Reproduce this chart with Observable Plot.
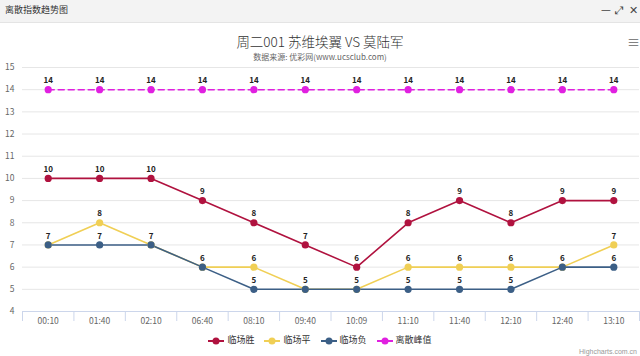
<!DOCTYPE html>
<html>
<head>
<meta charset="utf-8">
<script src="https://cdn.jsdelivr.net/npm/d3@7"></script>
<script src="https://cdn.jsdelivr.net/npm/@observablehq/plot@0.6"></script>
<style>
  html, body { margin: 0; padding: 0; background: #fff; }
  body { width: 640px; height: 356px; position: relative; overflow: hidden;
         font-family: "Noto Sans CJK SC", "Noto Sans", sans-serif; }
  #bar { position: absolute; left: 0; top: 0; width: 640px; height: 22px; background: #f3f3f3;
         border-bottom: 1px solid #e4e4e4; font-size: 9px; color: #333; }
  #bar .t { position: absolute; left: 5px; top: 5px; line-height: 1; }
  #bar .c { position: absolute; top: 4px; font-size: 11px; color: #444; line-height: 1; }
  #title { position: absolute; left: 0; width: 640px; top: 34px; text-align: center;
           font-size: 13.5px; line-height: 14px; color: #333; font-weight: 300; }
  #sub { position: absolute; left: 0; width: 640px; top: 52px; text-align: center;
         font-size: 8px; line-height: 9px; color: #666; }
  #menu { position: absolute; left: 627px; top: 35px; font-size: 13px; line-height: 13px; color: #666; }
  #chart { position: absolute; left: 0; top: 60px; }
  #legend { position: absolute; left: 0; width: 640px; top: 335px; text-align: center;
            font-size: 9px; line-height: 10px; color: #333; }
  #legend span.item { display: inline-block; margin: 0 5px; }
  #legend svg { vertical-align: middle; margin-right: 3px; }
  #credit { position: absolute; right: 3px; top: 348px; font-size: 7px; line-height: 7px; color: #999;
            font-family: "Liberation Sans", sans-serif; }
</style>
</head>
<body>
<div id="bar"><span class="t">离散指数趋势图</span>
  <span class="c" style="left:601px">—</span>
  <span class="c" style="left:615px">⤢</span>
  <span class="c" style="left:629px">✕</span>
</div>
<div id="title">周二001 苏维埃翼 VS 莫陆军</div>
<div id="sub">数据来源: 优彩网(www.ucsclub.com)</div>
<div id="menu">≡</div>
<div id="chart"></div>
<div id="legend"></div>
<div id="credit">Highcharts.com.cn</div>
<script>
const categories = ["00:10","01:40","02:10","06:40","08:10","09:40","10:09","11:10","11:40","12:10","12:40","13:10"];
const seriesNames = ["临场胜","临场平","临场负","离散峰值"];
const win  = [10,10,10,9,8,7,6,8,9,8,9,9];
const draw = [7,8,7,6,6,5,5,6,6,6,6,7];
const lose = [7,7,7,6,5,5,5,5,5,5,6,6];
const peak = [14,14,14,14,14,14,14,14,14,14,14,14];
const yTicks = [4,5,6,7,8,9,10,11,12,13,14,15];
const colors = ["#b0123f","#f0cf55","#3c5f86","#e020e0"];

const valuesBySeries = [win, draw, lose, peak];
const data = [];
valuesBySeries.forEach((vals, s) => vals.forEach((v, i) => data.push({series: seriesNames[s], i, v})));
const idx = categories.map((c, i) => i);
const boundaries = d3.range(categories.length + 1).map(i => i - 0.5);

const plot = Plot.plot({
  width: 640, height: 275,
  marginLeft: 22, marginRight: 1, marginTop: 7, marginBottom: 24,
  style: {fontFamily: "Noto Sans CJK SC, Noto Sans, sans-serif", background: "transparent"},
  x: {type: "linear", domain: [-0.5, categories.length - 0.5], axis: null},
  y: {domain: [4, 15], axis: null},
  color: {domain: seriesNames, range: colors},
  marks: [
    Plot.gridY(yTicks.filter(t => t > 4), {stroke: "#e6e6e6", strokeOpacity: 1}),
    Plot.axisY(yTicks, {tickSize: 0, tickPadding: 8, fontSize: 8.5, fill: "#666", textAnchor: "end", label: null}),
    Plot.ruleY([4], {stroke: "#ccd6eb"}),
    Plot.axisX(boundaries, {tickSize: 10, stroke: "#ccd6eb", text: null, label: null}),
    Plot.axisX(idx, {tickSize: 0, tickPadding: 6, fontSize: 8.5, fill: "#666", tickFormat: i => categories[i], label: null}),
    ...seriesNames.map((name, s) =>
      Plot.line(data.filter(d => d.series === name), {
        x: "i", y: "v", stroke: colors[s], strokeWidth: 1.6,
        strokeDasharray: name === "离散峰值" ? "6,4" : null
      })),
    Plot.dot(data, {x: "i", y: "v", fill: "series", r: 3.6, stroke: null}),
    Plot.text(data, {x: "i", y: "v", text: "v", dy: -9, fontSize: 8, fontWeight: "bold", fill: "#222",
      stroke: "white", strokeWidth: 2, paintOrder: "stroke"})
  ]
});
document.getElementById("chart").appendChild(plot);

const legend = document.getElementById("legend");
seriesNames.forEach((name, s) => {
  const item = document.createElement("span");
  item.className = "item";
  item.innerHTML = `<svg width="16" height="10"><line x1="0" x2="16" y1="5" y2="5" stroke="${colors[s]}" stroke-width="2"/><circle cx="8" cy="5" r="3.5" fill="${colors[s]}"/></svg>${name}`;
  legend.appendChild(item);
});
</script>
</body>
</html>
